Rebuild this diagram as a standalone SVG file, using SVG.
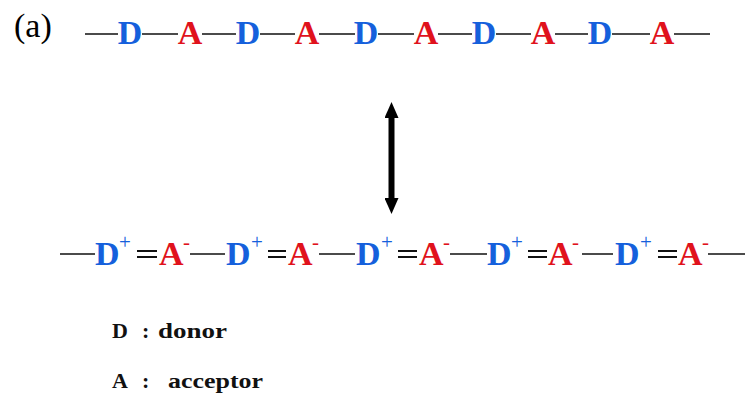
<svg xmlns="http://www.w3.org/2000/svg" width="748" height="401" viewBox="0 0 748 401">
  <style>
    text { font-family: "Liberation Serif", "DejaVu Serif", serif; }
    .d { fill: #1560dc; font-weight: bold; font-size: 34px; }
    .a { fill: #e0121c; font-weight: bold; font-size: 34px; }
    .dp { fill: #1560dc; font-size: 21px; }
    .am { fill: #e0121c; font-size: 21px; }
    .bond { stroke: #111; stroke-width: 1.6; fill: none; }
    .dbl { stroke: #111; stroke-width: 2; fill: none; }
    .leg { fill: #111; font-weight: bold; font-size: 22px; }
  </style>
  <defs>
    <marker id="head" viewBox="0 0 16 14" refX="2" refY="7" markerWidth="16" markerHeight="14" markerUnits="userSpaceOnUse" orient="auto-start-reverse">
      <path d="M0,0 L16,7 L0,14 z" fill="#000"/>
    </marker>
  </defs>
  <rect width="748" height="401" fill="#fff"/>

  <!-- panel label -->
  <text id="panel" font-family="Liberation Serif, serif" x="14" y="37" font-size="34" fill="#000">(a)</text>

  <!-- bonds -->
  <g id="connectors">
    <!-- neutral chain -->
    <path class="bond" d="M85,34H118 M142,34H178 M202,34H236 M260,34H295 M319,34H355 M378,34H414 M438,34H472 M496,34H531 M555,34H588 M612,34H650 M674,34H710"/>
    <!-- ionic chain: single bonds -->
    <path class="bond" d="M60,254H95 M190,254H225 M319,254H355 M450,254H487 M582,254H613 M708,254H745"/>
    <!-- ionic chain: double bonds -->
    <path class="dbl" d="M137,251H157 M137,257H157 M268,251H286 M268,257H286 M398,251H417 M398,257H417 M528,251H547 M528,257H547 M658,251H677 M658,257H677"/>
    <!-- resonance arrow -->
    <line x1="391.5" y1="116" x2="391.5" y2="200" stroke="#000" stroke-width="6" marker-start="url(#head)" marker-end="url(#head)"/>
  </g>

  <!-- neutral chain units -->
  <g id="chain-neutral" text-anchor="middle">
    <text class="d" x="130" y="44">D</text>
    <text class="a" x="190" y="44">A</text>
    <text class="d" x="248" y="44">D</text>
    <text class="a" x="307" y="44">A</text>
    <text class="d" x="366" y="44">D</text>
    <text class="a" x="426" y="44">A</text>
    <text class="d" x="484" y="44">D</text>
    <text class="a" x="543" y="44">A</text>
    <text class="d" x="600" y="44">D</text>
    <text class="a" x="662" y="44">A</text>
  </g>

  <!-- ionic chain units -->
  <g id="chain-ionic">
    <g id="unit1">
      <text class="d" x="95" y="265">D</text><text class="dp" x="119" y="249">+</text>
      <text class="a" x="159" y="265">A</text><text class="am" x="183" y="249">-</text>
    </g>
    <g id="unit2">
      <text class="d" x="226" y="265">D</text><text class="dp" x="251" y="249">+</text>
      <text class="a" x="288" y="265">A</text><text class="am" x="312" y="249">-</text>
    </g>
    <g id="unit3">
      <text class="d" x="356" y="265">D</text><text class="dp" x="381" y="249">+</text>
      <text class="a" x="419" y="265">A</text><text class="am" x="443" y="249">-</text>
    </g>
    <g id="unit4">
      <text class="d" x="487" y="265">D</text><text class="dp" x="511" y="249">+</text>
      <text class="a" x="548" y="265">A</text><text class="am" x="572" y="249">-</text>
    </g>
    <g id="unit5">
      <text class="d" x="615" y="265">D</text><text class="dp" x="640" y="249">+</text>
      <text class="a" x="678" y="265">A</text><text class="am" x="702" y="249">-</text>
    </g>
  </g>

  <!-- legend -->
  <g id="legend">
    <text class="leg" y="338"><tspan x="112">D</tspan><tspan x="142">:</tspan><tspan x="158" textLength="69" lengthAdjust="spacingAndGlyphs">donor</tspan></text>
    <text class="leg" y="388"><tspan x="112">A</tspan><tspan x="142">:</tspan><tspan x="168" textLength="95" lengthAdjust="spacingAndGlyphs">acceptor</tspan></text>
  </g>
</svg>
